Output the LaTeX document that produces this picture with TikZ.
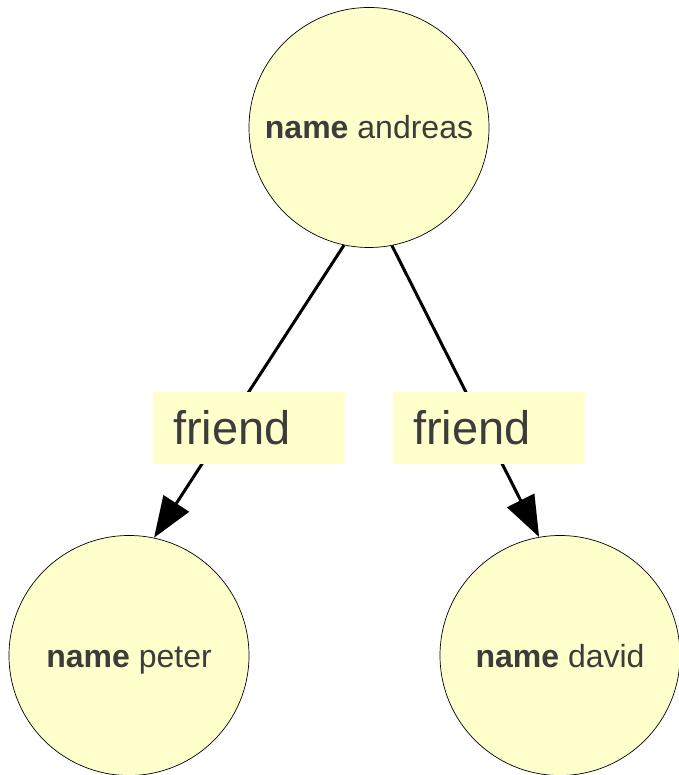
\documentclass[tikz,border=0pt]{standalone}
\usepackage{fontspec}
\setmainfont{Liberation Sans}
\usetikzlibrary{arrows.meta}
\definecolor{nodefill}{HTML}{FFFFCC}
\definecolor{txt}{HTML}{3C3C3C}
\begin{document}
\begin{tikzpicture}[x=1pt,y=1pt,
  person/.style={circle,draw=black,line width=0.7pt,fill=nodefill,minimum size=240pt,inner sep=0pt},
  nametext/.style={anchor=base,inner sep=0pt,text=txt,font=\fontsize{32}{38}\selectfont},
  relbox/.style={rectangle,fill=nodefill,minimum width=192pt,minimum height=72pt,text width=152pt,align=left,inner xsep=20pt,inner ysep=0pt,text=txt,font=\fontsize{47}{56}\selectfont},
  edge/.style={line width=3pt,-{Triangle[length=41pt,width=30pt]}}]
\useasboundingbox (0,0) rectangle (678,775);
\node[person] (A) at (369,647.5) {};
\node[person] (P) at (129,119.5) {};
\node[person] (D) at (560,119.5) {};
\node[nametext] (At) at (369,636) {\textbf{name} andreas};
\node[nametext] (Pt) at (129,107) {\textbf{name} peter};
\node[nametext] (Dt) at (560,107) {\textbf{name} david};
\draw[edge] (A.258.3) -- (P.78.7);
\draw[edge] (A.281.3) -- (D.100.8);
\node[relbox] (F1) at (249,347) {friend};
\node[relbox] (F2) at (489,347) {friend};
\end{tikzpicture}
\end{document}
